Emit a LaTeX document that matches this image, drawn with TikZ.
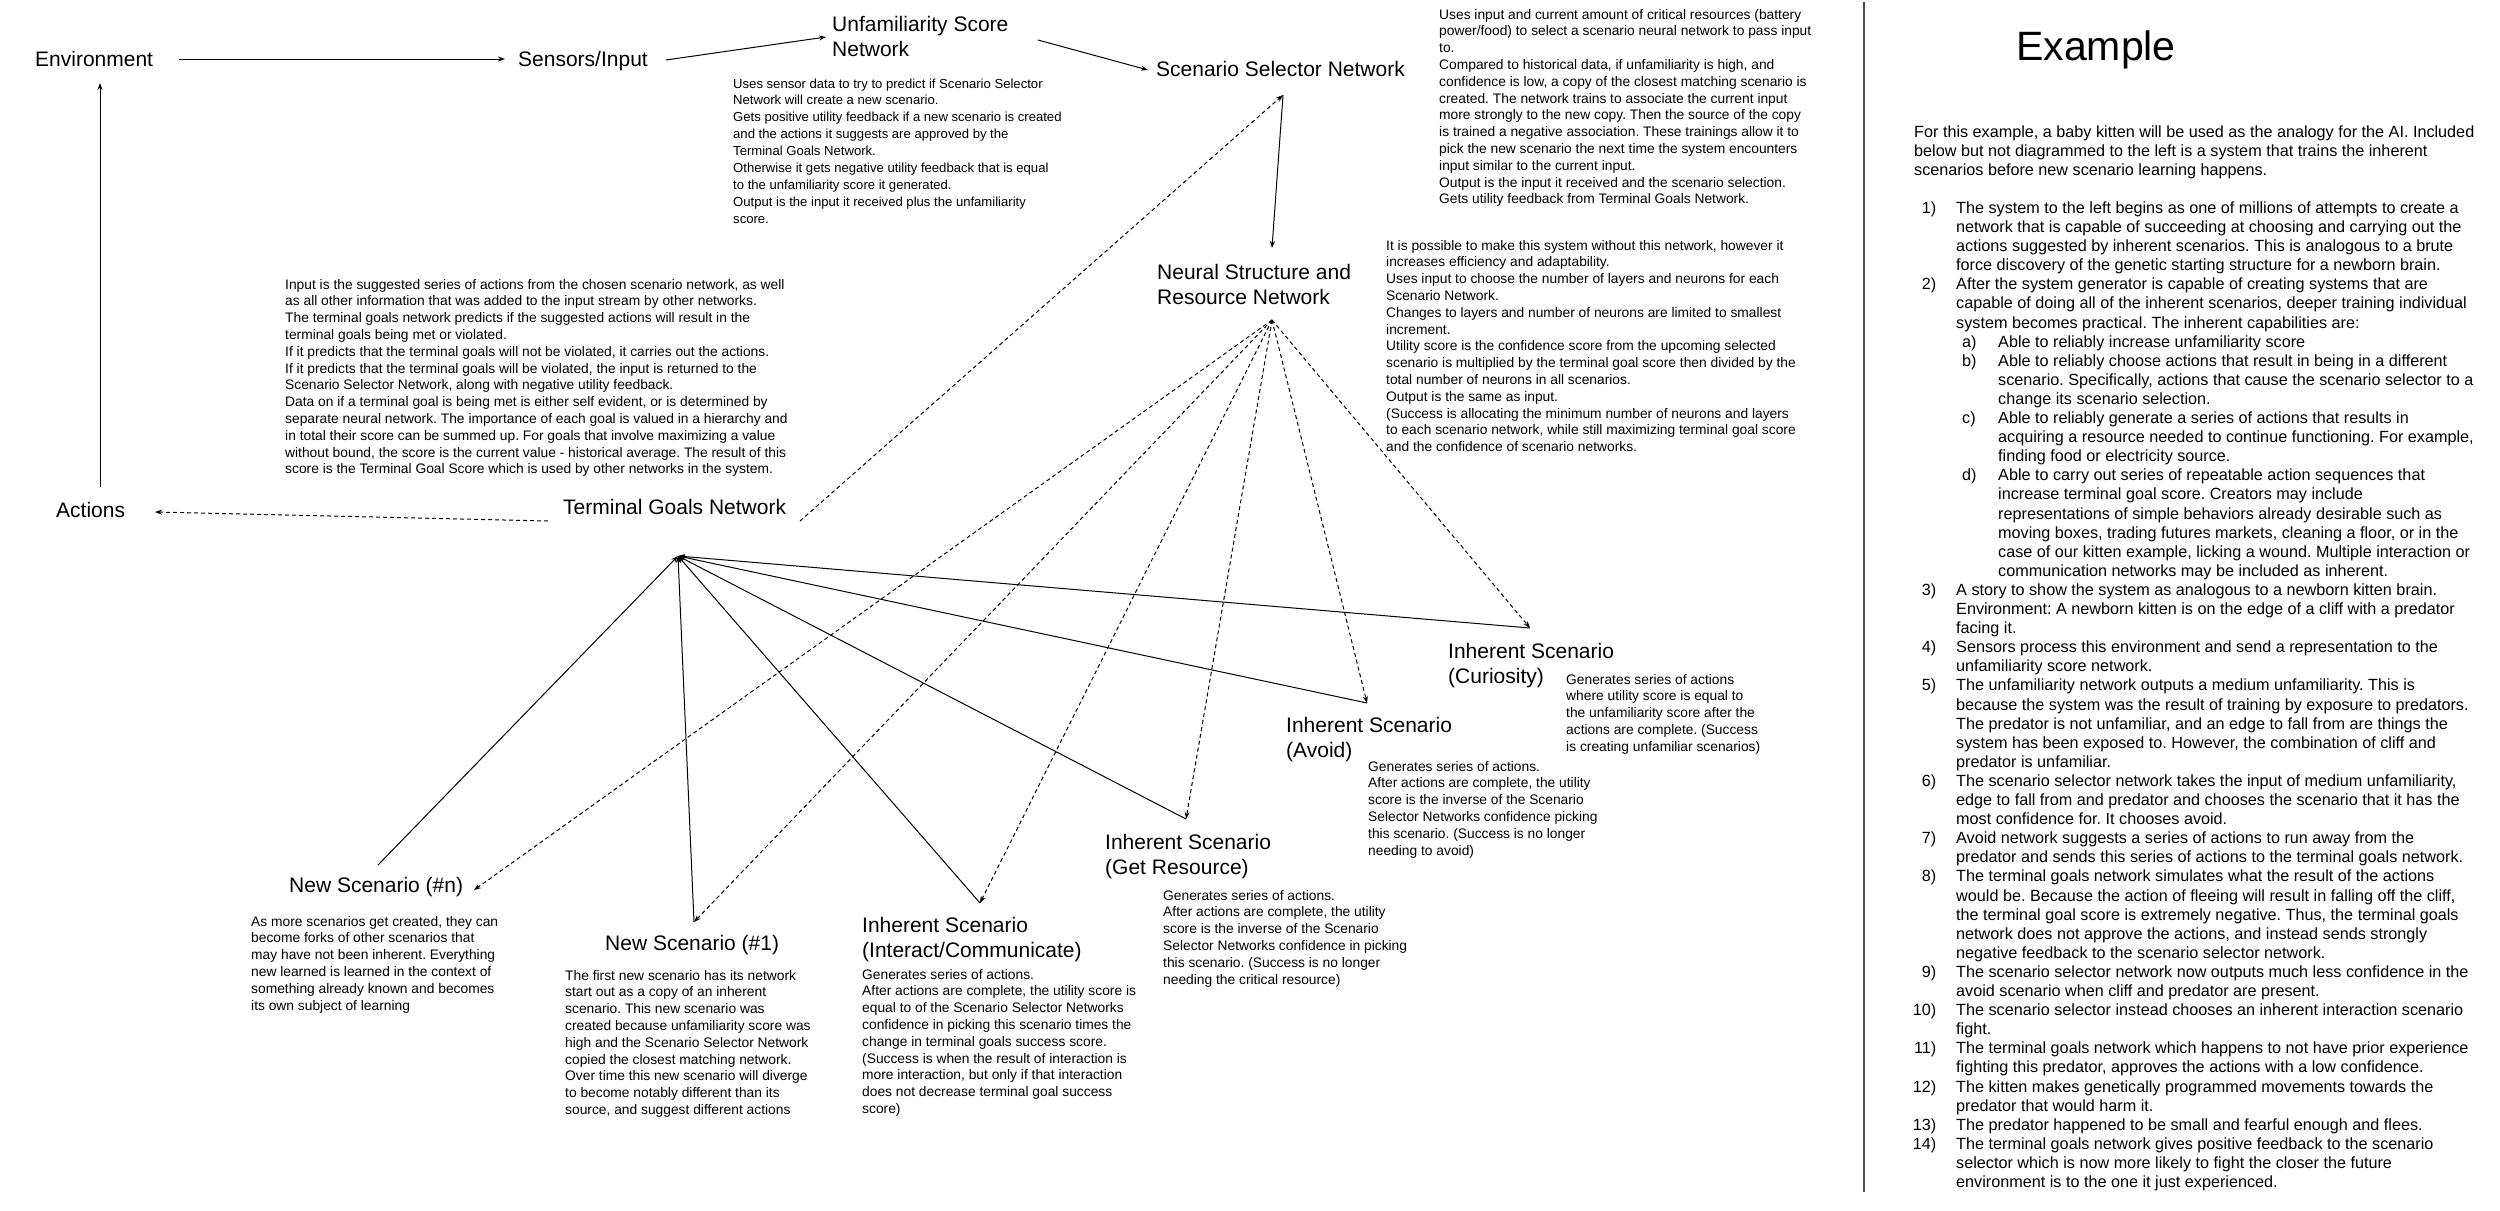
\documentclass[tikz,border=0pt]{standalone}
\usepackage{fontspec}
\setmainfont{Liberation Sans}
\usetikzlibrary{arrows.meta}
\frenchspacing
\newcommand\ML[1]{\begin{tabular}[t]{@{}l@{}}#1\end{tabular}}
\newcommand\RPnum[1]{\makebox[22pt][r]{#1}\hspace{20pt}}
\newcommand\RPcont{\hspace{42pt}}
\newcommand\RPsub[1]{\hspace{48pt}\makebox[36pt][l]{#1}}
\newcommand\RPsubc{\hspace{84pt}}
\tikzset{
  lbl/.style={anchor=base west, inner sep=0pt, font=\fontsize{21}{25}\selectfont},
  desc/.style={anchor=base west, inner sep=0pt, font=\fontsize{13.8}{16.8}\selectfont},
  descsm/.style={anchor=base west, inner sep=0pt, font=\fontsize{13.1}{16.9}\selectfont},
  panel/.style={anchor=base west, inner sep=0pt, font=\fontsize{16.2}{19.1}\selectfont},
  conn/.style={line width=1pt, -{Stealth[length=7pt,width=5pt]}},
  dconn/.style={conn, dash pattern=on 4pt off 3pt},
}
\begin{document}
\begin{tikzpicture}[x=1pt,y=-1pt]
\useasboundingbox (0,0) rectangle (2500,1210);
\fill[white] (0,0) rectangle (2500,1210);

% ---------- labels ----------
\node[lbl] (env) at (35,66) {Environment};
\node[lbl] (sens) at (518,66) {Sensors/Input};
\node[lbl] (unf) at (832,31) {\ML{Unfamiliarity Score\\Network}};
\node[lbl] (ss) at (1156,76) {Scenario Selector Network};
\node[lbl] (ns) at (1157,279) {\ML{Neural Structure and\\Resource Network}};
\node[lbl] (tg) at (563,514) {Terminal Goals Network};
\node[lbl] (act) at (56,517) {Actions};
\node[lbl] (sn) at (289,892) {New Scenario (\#n)};
\node[lbl] (s1) at (605,950) {New Scenario (\#1)};
\node[lbl] (sint) at (862,932) {\ML{Inherent Scenario\\(Interact/Communicate)}};
\node[lbl] (sres) at (1105,849) {\ML{Inherent Scenario\\(Get Resource)}};
\node[lbl] (savo) at (1286,732) {\ML{Inherent Scenario\\(Avoid)}};
\node[lbl] (scur) at (1448,658) {\ML{Inherent Scenario\\(Curiosity)}};

% ---------- descriptions ----------
\node[descsm] (dunf) at (733,88) {\ML{Uses sensor data to try to predict if Scenario Selector\\
Network will create a new scenario.\\
Gets positive utility feedback if a new scenario is created\\
and the actions it suggests are approved by the\\
Terminal Goals Network.\\
Otherwise it gets negative utility feedback that is equal\\
to the unfamiliarity score it generated.\\
Output is the input it received plus the unfamiliarity\\
score.}};

\node[desc] (dss) at (1439,19) {\ML{Uses input and current amount of critical resources (battery\\
power/food) to select a scenario neural network to pass input\\
to.\\
Compared to historical data, if unfamiliarity is high, and\\
confidence is low, a copy of the closest matching scenario is\\
created. The network trains to associate the current input\\
more strongly to the new copy. Then the source of the copy\\
is trained a negative association. These trainings allow it to\\
pick the new scenario the next time the system encounters\\
input similar to the current input.\\
Output is the input it received and the scenario selection.\\
Gets utility feedback from Terminal Goals Network.}};

\node[desc] (dtg) at (285,289) {\ML{Input is the suggested series of actions from the chosen scenario network, as well\\
as all other information that was added to the input stream by other networks.\\
The terminal goals network predicts if the suggested actions will result in the\\
terminal goals being met or violated.\\
If it predicts that the terminal goals will not be violated, it carries out the actions.\\
If it predicts that the terminal goals will be violated, the input is returned to the\\
Scenario Selector Network, along with negative utility feedback.\\
Data on if a terminal goal is being met is either self evident, or is determined by\\
separate neural network. The importance of each goal is valued in a hierarchy and\\
in total their score can be summed up. For goals that involve maximizing a value\\
without bound, the score is the current value - historical average. The result of this\\
score is the Terminal Goal Score which is used by other networks in the system.}};

\node[desc] (dns) at (1386,250) {\ML{It is possible to make this system without this network, however it\\
increases efficiency and adaptability.\\
Uses input to choose the number of layers and neurons for each\\
Scenario Network.\\
Changes to layers and number of neurons are limited to smallest\\
increment.\\
Utility score is the confidence score from the upcoming selected\\
scenario is multiplied by the terminal goal score then divided by the\\
total number of neurons in all scenarios.\\
Output is the same as input.\\
(Success is allocating the minimum number of neurons and layers\\
to each scenario network, while still maximizing terminal goal score\\
and the confidence of scenario networks.}};

\node[desc] (dsn) at (251,926) {\ML{As more scenarios get created, they can\\
become forks of other scenarios that\\
may have not been inherent. Everything\\
new learned is learned in the context of\\
something already known and becomes\\
its own subject of learning}};

\node[desc] (ds1) at (565,980) {\ML{The first new scenario has its network\\
start out as a copy of an inherent\\
scenario. This new scenario was\\
created because unfamiliarity score was\\
high and the Scenario Selector Network\\
copied the closest matching network.\\
Over time this new scenario will diverge\\
to become notably different than its\\
source, and suggest different actions}};

\node[desc] (dsint) at (862,979) {\ML{Generates series of actions.\\
After actions are complete, the utility score is\\
equal to of the Scenario Selector Networks\\
confidence in picking this scenario times the\\
change in terminal goals success score.\\
(Success is when the result of interaction is\\
more interaction, but only if that interaction\\
does not decrease terminal goal success\\
score)}};

\node[desc] (dsres) at (1163,900) {\ML{Generates series of actions.\\
After actions are complete, the utility\\
score is the inverse of the Scenario\\
Selector Networks confidence in picking\\
this scenario. (Success is no longer\\
needing the critical resource)}};

\node[desc] (dsavo) at (1368,771) {\ML{Generates series of actions.\\
After actions are complete, the utility\\
score is the inverse of the Scenario\\
Selector Networks confidence picking\\
this scenario. (Success is no longer\\
needing to avoid)}};

\node[desc] (dscur) at (1566,684) {\ML{Generates series of actions\\
where utility score is equal to\\
the unfamiliarity score after the\\
actions are complete. (Success\\
is creating unfamiliar scenarios)}};

% ---------- connector end points ----------
\coordinate (envR) at (179,59);
\coordinate (sensL) at (505,59);
\coordinate (sensR) at (666,60);
\coordinate (unfL) at (826,37);
\coordinate (unfR) at (1038,40);
\coordinate (ssL) at (1148,70);
\coordinate (ssB) at (1283,95);
\coordinate (nsT) at (1272,248);
\coordinate (nsHub) at (1272,320);
\coordinate (tgHub) at (678,556);
\coordinate (tgL) at (548,521);
\coordinate (tgR) at (800,521);
\coordinate (actR) at (155,512);
\coordinate (actT) at (100,487);
\coordinate (envB) at (100,83);
\coordinate (snA) at (378,865);
\coordinate (snB) at (474,890);
\coordinate (s1P) at (694,922);
\coordinate (sintP) at (980,903);
\coordinate (sresP) at (1186,819);
\coordinate (savoP) at (1367,703);
\coordinate (scurP) at (1530,628);

% ---------- connectors ----------
\draw[conn] (envR) -- (sensL);
\draw[conn] (sensR) -- (unfL);
\draw[conn] (unfR) -- (ssL);
\draw[conn] (actT) -- (envB);
\draw[dconn] (tgL) -- (actR);
\draw[dconn] (tgR) -- (ssB);
\draw[conn] (ssB) -- (nsT);
\foreach \p in {snB,s1P,sintP,sresP,savoP,scurP}
  \draw[dconn] (nsHub) -- (\p);
\foreach \p in {snA,s1P,sintP,sresP,savoP,scurP}
  \draw[conn] (\p) -- (tgHub);

% ---------- separator and example panel ----------
\draw[line width=2pt, black!70] (1864,2) -- (1864,1192);
\node[anchor=center, inner sep=0pt, font=\fontsize{41}{48}\selectfont] (ex) at (2096,50) {Example};

\node[panel] (story) at (1914,137) {\ML{For this example, a baby kitten will be used as the analogy for the AI. Included\\
below but not diagrammed to the left is a system that trains the inherent\\
scenarios before new scenario learning happens.\\
\\
\RPnum{1)}The system to the left begins as one of millions of attempts to create a\\
\RPcont network that is capable of succeeding at choosing and carrying out the\\
\RPcont actions suggested by inherent scenarios. This is analogous to a brute\\
\RPcont force discovery of the genetic starting structure for a newborn brain.\\
\RPnum{2)}After the system generator is capable of creating systems that are\\
\RPcont capable of doing all of the inherent scenarios, deeper training individual\\
\RPcont system becomes practical. The inherent capabilities are:\\
\RPsub{a)}Able to reliably increase unfamiliarity score\\
\RPsub{b)}Able to reliably choose actions that result in being in a different\\
\RPsubc scenario. Specifically, actions that cause the scenario selector to a\\
\RPsubc change its scenario selection.\\
\RPsub{c)}Able to reliably generate a series of actions that results in\\
\RPsubc acquiring a resource needed to continue functioning. For example,\\
\RPsubc finding food or electricity source.\\
\RPsub{d)}Able to carry out series of repeatable action sequences that\\
\RPsubc increase terminal goal score. Creators may include\\
\RPsubc representations of simple behaviors already desirable such as\\
\RPsubc moving boxes, trading futures markets, cleaning a floor, or in the\\
\RPsubc case of our kitten example, licking a wound. Multiple interaction or\\
\RPsubc communication networks may be included as inherent.\\
\RPnum{3)}A story to show the system as analogous to a newborn kitten brain.\\
\RPcont Environment: A newborn kitten is on the edge of a cliff with a predator\\
\RPcont facing it.\\
\RPnum{4)}Sensors process this environment and send a representation to the\\
\RPcont unfamiliarity score network.\\
\RPnum{5)}The unfamiliarity network outputs a medium unfamiliarity. This is\\
\RPcont because the system was the result of training by exposure to predators.\\
\RPcont The predator is not unfamiliar, and an edge to fall from are things the\\
\RPcont system has been exposed to. However, the combination of cliff and\\
\RPcont predator is unfamiliar.\\
\RPnum{6)}The scenario selector network takes the input of medium unfamiliarity,\\
\RPcont edge to fall from and predator and chooses the scenario that it has the\\
\RPcont most confidence for. It chooses avoid.\\
\RPnum{7)}Avoid network suggests a series of actions to run away from the\\
\RPcont predator and sends this series of actions to the terminal goals network.\\
\RPnum{8)}The terminal goals network simulates what the result of the actions\\
\RPcont would be. Because the action of fleeing will result in falling off the cliff,\\
\RPcont the terminal goal score is extremely negative. Thus, the terminal goals\\
\RPcont network does not approve the actions, and instead sends strongly\\
\RPcont negative feedback to the scenario selector network.\\
\RPnum{9)}The scenario selector network now outputs much less confidence in the\\
\RPcont avoid scenario when cliff and predator are present.\\
\RPnum{10)}The scenario selector instead chooses an inherent interaction scenario\\
\RPcont fight.\\
\RPnum{11)}The terminal goals network which happens to not have prior experience\\
\RPcont fighting this predator, approves the actions with a low confidence.\\
\RPnum{12)}The kitten makes genetically programmed movements towards the\\
\RPcont predator that would harm it.\\
\RPnum{13)}The predator happened to be small and fearful enough and flees.\\
\RPnum{14)}The terminal goals network gives positive feedback to the scenario\\
\RPcont selector which is now more likely to fight the closer the future\\
\RPcont environment is to the one it just experienced.}};
\end{tikzpicture}
\end{document}
